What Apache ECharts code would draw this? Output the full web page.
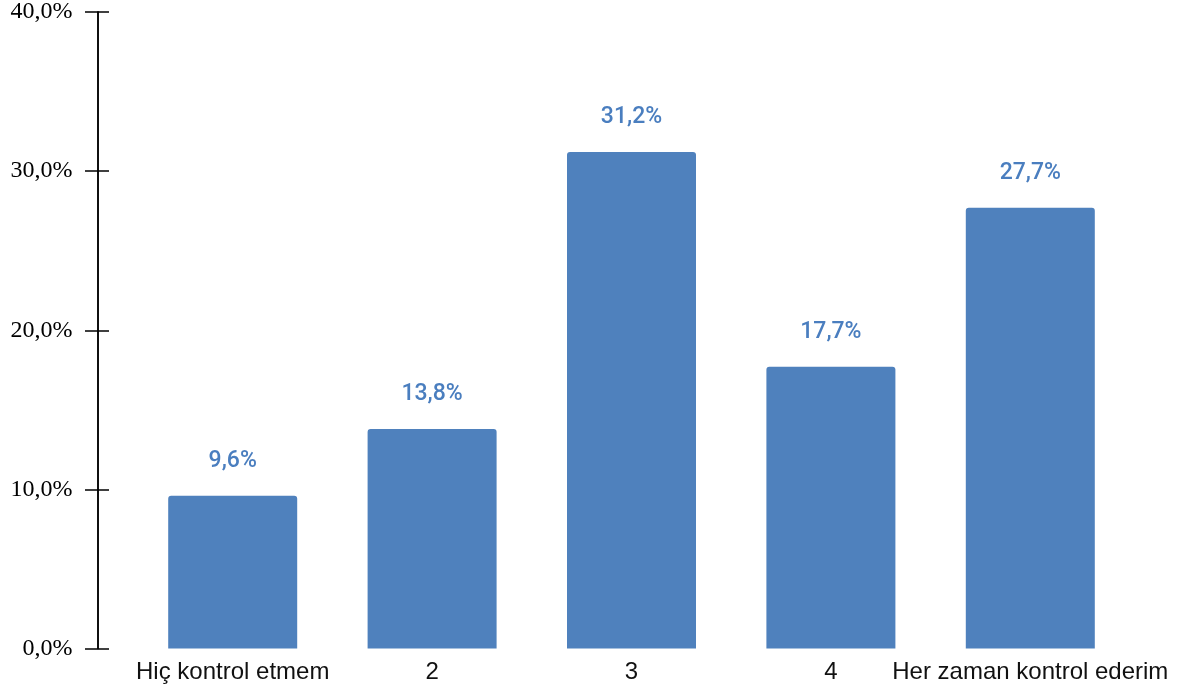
<!DOCTYPE html>
<html>
<head>
<meta charset="utf-8">
<script src="https://cdn.jsdelivr.net/npm/echarts@6/dist/echarts.min.js"></script>
<style>
  html, body { margin: 0; padding: 0; background: #fff; }
  #chart { width: 1181px; height: 692px; }
</style>
</head>
<body>
<div id="chart"></div>
<script>
// Answer categories and their shares (%)
const categories = ['Hiç kontrol etmem', '2', '3', '4', 'Her zaman kontrol ederim'];
const shares = [9.6, 13.8, 31.2, 17.7, 27.7];
const yTicks = [0, 10, 20, 30, 40];

const fmtPct = v => v.toFixed(1).replace('.', ',') + '%';

const barColor = '#4f81bd';

const yCommon = {
  type: 'value',
  min: yTicks[0],
  max: yTicks[yTicks.length - 1],
  interval: yTicks[1] - yTicks[0],
  position: 'left',
  offset: 35.5,
  splitLine: { show: false },
  axisLine: { show: true, lineStyle: { color: '#000', width: 1.5 } }
};

const chart = echarts.init(document.getElementById('chart'));
chart.setOption({
  animation: false,
  grid: { left: 133, right: 51, top: 11, bottom: 43.5, containLabel: false },
  xAxis: {
    type: 'category',
    data: categories,
    axisLine: { show: false },
    axisTick: { show: false },
    axisLabel: {
      color: '#111',
      fontFamily: 'Liberation Sans, Arial, sans-serif',
      fontSize: 24,
      margin: 12,
      interval: 0
    }
  },
  yAxis: [
    Object.assign({}, yCommon, {
      axisTick: { show: true, inside: false, length: 12.5, lineStyle: { color: '#000', width: 1.5 } },
      axisLabel: {
        color: '#000',
        fontFamily: 'Liberation Serif, Times New Roman, serif',
        fontSize: 24,
        margin: 25,
        formatter: fmtPct
      }
    }),
    Object.assign({}, yCommon, {
      axisTick: { show: true, inside: true, length: 11.5, lineStyle: { color: '#000', width: 1.5 } },
      axisLabel: { show: false }
    })
  ],
  series: [{
    type: 'bar',
    data: shares,
    barWidth: 129,
    itemStyle: { color: barColor, borderRadius: [3, 3, 0, 0] },
    label: {
      show: true,
      position: 'top',
      distance: 23,
      color: '#4a7ebf',
      fontFamily: 'Roboto, sans-serif',
      fontWeight: 500,
      fontSize: 23,
      formatter: p => fmtPct(p.value)
    }
  }]
});
</script>
</body>
</html>
